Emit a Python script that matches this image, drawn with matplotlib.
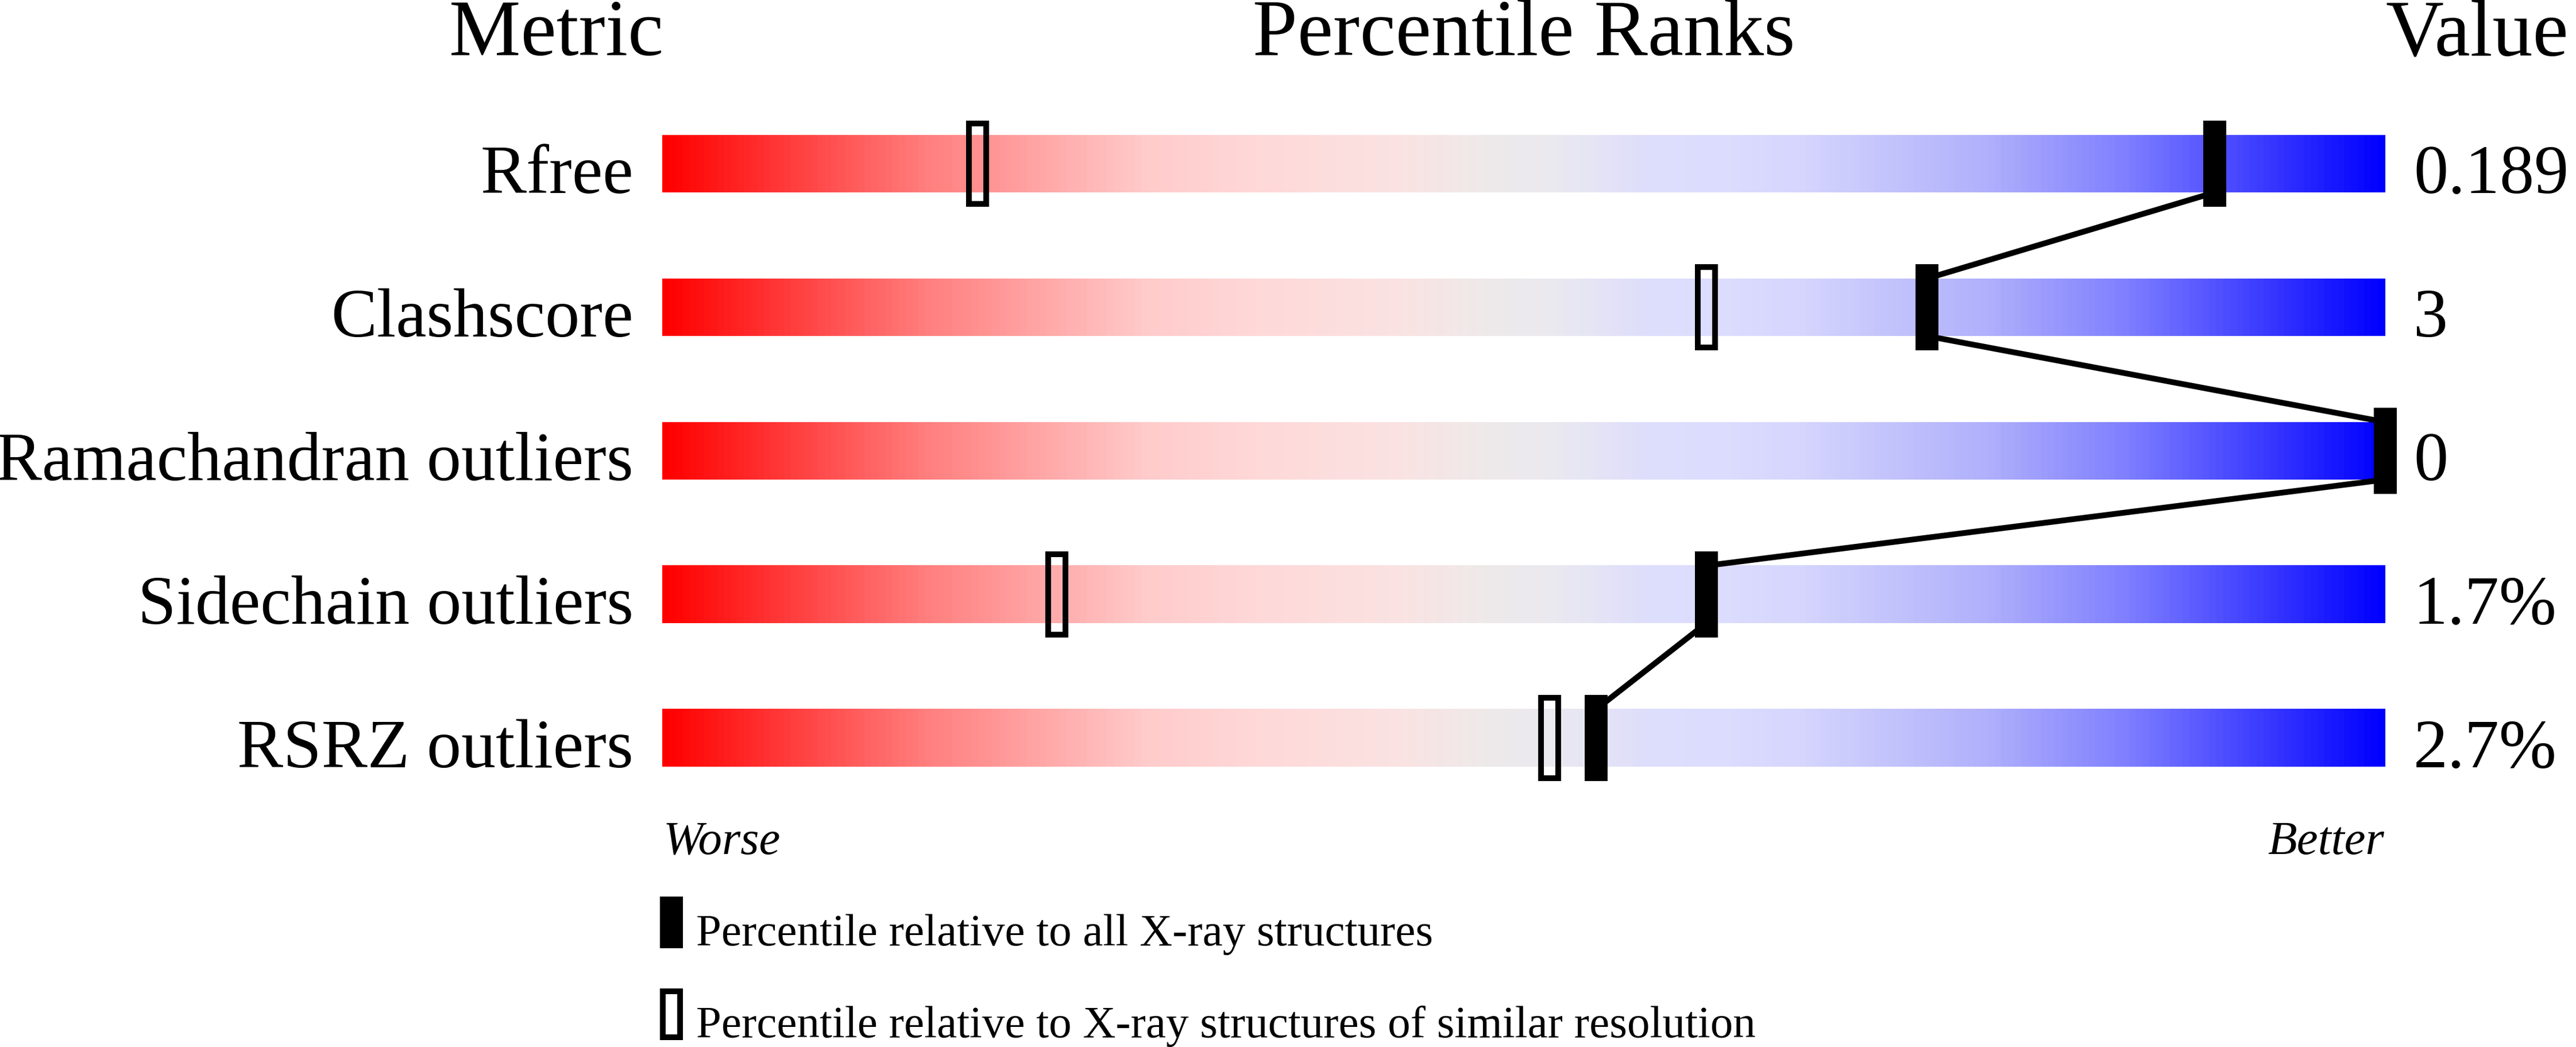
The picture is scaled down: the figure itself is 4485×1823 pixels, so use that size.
import numpy as np
import matplotlib
matplotlib.use("Agg")
import matplotlib.pyplot as plt
import matplotlib.transforms as mtransforms
from matplotlib.patches import Rectangle
from matplotlib.colors import LinearSegmentedColormap

# ---------------- data ----------------
metrics = ["Rfree", "Clashscore", "Ramachandran outliers", "Sidechain outliers", "RSRZ outliers"]
values = ["0.189", "3", "0", "1.7%", "2.7%"]
pct_all = [90.1, 73.4, 100.0, 60.6, 54.2]        # percentile vs all X-ray structures (filled)
pct_similar = [18.3, 60.6, 100.0, 22.9, 51.5]    # percentile vs similar resolution (open)
legend_labels = ["Percentile relative to all X-ray structures",
                 "Percentile relative to X-ray structures of similar resolution"]

# ---------------- style ----------------
W, H, DPI = 4485, 1824, 100
PT = 72.0 / DPI
plt.rcParams['font.family'] = ['Liberation Serif', 'DejaVu Serif']

stops = [
    (0.00, (255, 0, 0)),
    (0.15, (255, 125, 125)),
    (0.28, (255, 203, 203)),
    (0.35, (255, 217, 217)),
    (0.43, (250, 227, 227)),
    (0.48, (238, 234, 234)),
    (0.52, (234, 233, 240)),
    (0.57, (222, 222, 252)),
    (0.62, (220, 220, 255)),
    (0.66, (214, 214, 254)),
    (0.70, (200, 200, 252)),
    (0.77, (176, 176, 252)),
    (0.85, (128, 128, 255)),
    (1.00, (0, 0, 255)),
]
cmap = LinearSegmentedColormap.from_list(
    "slider", [(p, tuple(c / 255 for c in col)) for p, col in stops])

fig = plt.figure(figsize=(W / DPI, H / DPI), dpi=DPI)
fig.patch.set_facecolor("white")

# axes covering the slider area: x = percentile, y = row index (250 px per row)
ax = fig.add_axes([1153 / W, (H - 1411) / H, 3000 / W, 1250 / H])
pix = mtransforms.Affine2D().scale(1 / W, -1 / H).translate(0, 1) + fig.transFigure

n = len(metrics)
grad = np.linspace(0, 1, 1000).reshape(1, -1)
BAR_H = 0.2        # half bar height (100 px)
MK_H = 0.28        # half marker centerline height (140 px + 10 px stroke)
MK_W = 1.0         # marker centerline width in percentile units (30 px)
MK_LW = 10 * PT
LINE_LW = 10 * PT

for i in range(n):
    ax.imshow(grad, cmap=cmap, aspect='auto', extent=(0, 100, i + BAR_H, i - BAR_H),
              interpolation='bilinear', zorder=1)

# connecting lines between filled markers
for i in range(n - 1):
    ax.plot([pct_all[i], pct_all[i + 1]], [i + BAR_H, i + 1 - BAR_H], color='black',
            lw=LINE_LW, solid_capstyle='butt', zorder=3, clip_on=False)

for i in range(n):
    ps = pct_similar[i]
    ax.add_patch(Rectangle((ps - MK_W / 2, i - MK_H), MK_W, 2 * MK_H, facecolor='none',
                           edgecolor='black', lw=MK_LW, joinstyle='miter', zorder=4, clip_on=False))
    pa = pct_all[i]
    ax.add_patch(Rectangle((pa - MK_W / 2, i - MK_H), MK_W, 2 * MK_H, facecolor='black',
                           edgecolor='black', lw=MK_LW, joinstyle='miter', zorder=5, clip_on=False))

ax.set_xlim(0, 100)
ax.set_ylim(n - 0.5, -0.5)
ax.axis('off')

# row labels and values
lab_tr = mtransforms.offset_copy(ax.transData, fig, x=-50 * PT, y=0, units='points')
val_tr = mtransforms.offset_copy(ax.transData, fig, x=49 * PT, y=0, units='points')
ROW_FS = 120 * PT
for i in range(n):
    ax.text(0, i + BAR_H, metrics[i], transform=lab_tr, ha='right', va='baseline',
            fontsize=ROW_FS, color='black', clip_on=False)
    ax.text(100, i + BAR_H, values[i], transform=val_tr, ha='left', va='baseline',
            fontsize=ROW_FS, color='black', clip_on=False)

# headers
HEAD_FS = 140 * PT
fig.text(969, 96, "Metric", transform=pix, ha='center', va='baseline', fontsize=HEAD_FS)
fig.text(2653, 96, "Percentile Ranks", transform=pix, ha='center', va='baseline', fontsize=HEAD_FS)
fig.text(4153, 97, "Value", transform=pix, ha='left', va='baseline', fontsize=HEAD_FS)

# worse / better
fig.text(1155, 1487, "Worse", transform=pix, ha='left', va='baseline',
         fontsize=83 * PT, style='italic')
fig.text(4151, 1487, "Better", transform=pix, ha='right', va='baseline',
         fontsize=83 * PT, style='italic')

# legend
fig.patches.append(Rectangle((1154, 1567), 30, 80, transform=pix, facecolor='black',
                             edgecolor='black', lw=MK_LW, joinstyle='miter'))
fig.patches.append(Rectangle((1154, 1727), 30, 80, transform=pix, facecolor='none',
                             edgecolor='black', lw=MK_LW, joinstyle='miter'))
fig.text(1212, 1646, legend_labels[0], transform=pix, ha='left', va='baseline', fontsize=79 * PT)
fig.text(1212, 1806, legend_labels[1], transform=pix, ha='left', va='baseline', fontsize=79 * PT)

fig.savefig("out.png", dpi=DPI, facecolor='white')
